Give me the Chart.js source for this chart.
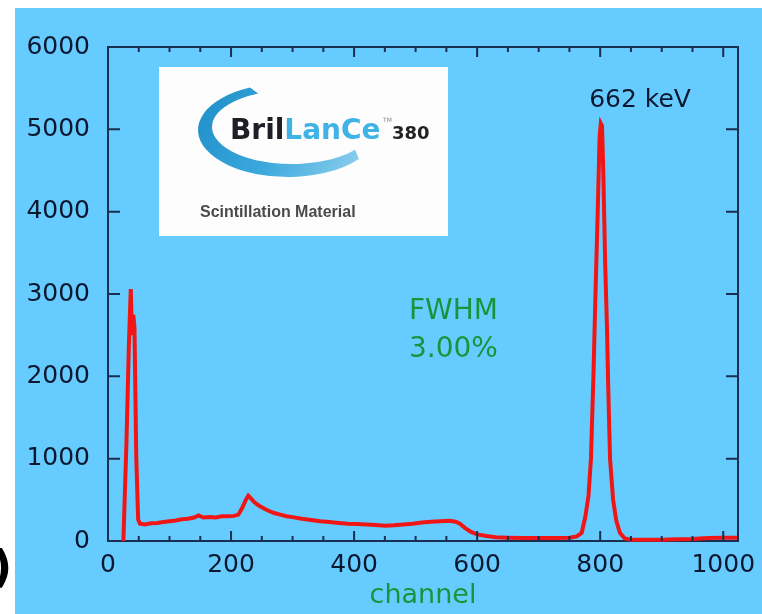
<!DOCTYPE html>
<html>
<head>
<meta charset="utf-8">
<script src="https://cdn.jsdelivr.net/npm/chart.js@4.4.0/dist/chart.umd.min.js"></script>
<style>
  html, body { margin: 0; padding: 0; background: #ffffff; }
  #wrap { width: 762px; height: 614px; }
</style>
</head>
<body>
<div id="wrap"><canvas id="spectrum" width="762" height="614"></canvas></div>
<script>
// spectrum: channel -> counts
const channels = [
  25, 30, 34, 37, 39, 41, 43, 46, 49, 52, 60, 70, 80, 90, 100, 110, 120, 130,
  140, 147, 155, 165, 175, 185, 195, 205, 212, 218, 224, 228, 232, 238, 245,
  252, 260, 270, 280, 290, 300, 315, 330, 345, 360, 375, 390, 405, 420, 435,
  450, 465, 480, 495, 510, 525, 540, 555, 565, 572, 580, 590, 600, 615, 630,
  650, 675, 700, 725, 750, 762, 770, 776, 781, 785, 789, 792, 796, 799, 801,
  803, 805, 808, 811, 813, 816, 821, 826, 832, 840, 850, 875, 900, 925, 950,
  975, 1000, 1024,
];
const counts = [
  0, 1200, 2400, 3060, 2500, 2750, 2600, 1000, 260, 210, 200, 215, 220, 230,
  240, 250, 265, 270, 285, 310, 285, 290, 285, 300, 300, 305, 320, 400, 500,
  550, 520, 470, 430, 400, 370, 340, 320, 300, 290, 270, 255, 240, 230, 220,
  210, 205, 200, 195, 185, 190, 200, 210, 225, 235, 240, 245, 235, 210, 160,
  110, 80, 60, 45, 40, 35, 35, 35, 40, 55, 100, 300, 550, 1000, 2000, 2900,
  4000, 4900, 5070, 5040, 4500, 3400, 2600, 1900, 1000, 500, 250, 100, 30, 15,
  15, 15, 20, 25, 35, 40, 40,
];

const xTicks = [0, 200, 400, 600, 800, 1000];
const yTicks = [0, 1000, 2000, 3000, 4000, 5000, 6000];
const xMinorStep = 50;

const AXIS = "#1c2e50";
const LABEL = "#0b1830";
const GREEN = "#16963a";

// white page with the blue panel on it
const backdrop = {
  id: "backdrop",
  beforeDraw(chart) {
    const ctx = chart.ctx;
    ctx.save();
    ctx.fillStyle = "#ffffff";
    ctx.fillRect(0, 0, chart.width, chart.height);
    ctx.fillStyle = "#66ccff";
    ctx.fillRect(15, 8, chart.width - 15, chart.height - 8);
    ctx.restore();
  },
};

// closed frame + inward ticks
const frameTicks = {
  id: "frameTicks",
  afterDatasetsDraw(chart) {
    const { ctx, chartArea: a, scales } = chart;
    ctx.save();
    ctx.strokeStyle = AXIS;
    ctx.lineWidth = 2;
    ctx.beginPath();
    ctx.moveTo(a.left, a.top);
    ctx.lineTo(a.right, a.top);
    ctx.lineTo(a.right, a.bottom);
    ctx.stroke();

    ctx.beginPath();
    for (let v = 0; v <= xTicks[xTicks.length - 1]; v += xMinorStep) {
      const px = scales.x.getPixelForValue(v);
      const len = xTicks.includes(v) ? 10 : 5;
      ctx.moveTo(px, a.bottom);
      ctx.lineTo(px, a.bottom - len);
      ctx.moveTo(px, a.top);
      ctx.lineTo(px, a.top + len);
    }
    yTicks.forEach((v) => {
      const py = scales.y.getPixelForValue(v);
      ctx.moveTo(a.left, py);
      ctx.lineTo(a.left + 12, py);
      ctx.moveTo(a.right, py);
      ctx.lineTo(a.right - 12, py);
    });
    ctx.stroke();
    ctx.restore();
  },
};

// peak label, FWHM note, logo box
const notes = {
  id: "notes",
  afterDraw(chart) {
    const ctx = chart.ctx;
    const deg = Math.PI / 180;
    ctx.save();

    ctx.fillStyle = LABEL;
    ctx.font = '25px "DejaVu Sans"';
    ctx.textAlign = "center";
    ctx.textBaseline = "alphabetic";
    ctx.fillText("662 keV", 640, 107);

    ctx.fillStyle = GREEN;
    ctx.font = '28px "DejaVu Sans"';
    ctx.textAlign = "left";
    ctx.fillText("FWHM", 409, 319);
    ctx.fillText("3.00%", 409, 357);

    // logo
    ctx.fillStyle = "#fdfdfd";
    ctx.fillRect(159, 67, 289, 169);

    // swoosh: crescent between two ellipse arcs
    const grad = ctx.createLinearGradient(200, 90, 360, 175);
    grad.addColorStop(0, "#1f8fc8");
    grad.addColorStop(0.5, "#3aa8dc");
    grad.addColorStop(1, "#8fd0ef");
    ctx.fillStyle = grad;
    ctx.beginPath();
    ctx.ellipse(288, 130, 90, 47, 0, -115 * deg, 38 * deg, true);
    ctx.ellipse(292, 127, 80, 37, 0, 38 * deg, -115 * deg, false);
    ctx.closePath();
    ctx.fill();

    ctx.textBaseline = "alphabetic";
    ctx.font = 'bold 28px "DejaVu Sans"';
    ctx.fillStyle = "#1e1e24";
    ctx.fillText("Bril", 230, 139);
    const w = ctx.measureText("Bril").width;
    ctx.fillStyle = "#3fb3e6";
    ctx.fillText("LanCe", 230 + w, 139);

    ctx.fillStyle = "#888888";
    ctx.font = '6px "DejaVu Sans"';
    ctx.fillText("TM", 383, 122);

    ctx.fillStyle = "#222222";
    ctx.font = 'bold 18px "DejaVu Sans"';
    ctx.fillText("380", 392, 139);

    ctx.fillStyle = "#4a4a4a";
    ctx.font = 'bold 16px "Liberation Sans"';
    ctx.fillText("Scintillation Material", 200, 217, 171);

    // stray bracket at the left edge
    ctx.fillStyle = "#000000";
    ctx.font = 'bold 44px "DejaVu Sans"';
    ctx.fillText(")", -8, 582);

    ctx.restore();
  },
};

new Chart(document.getElementById("spectrum"), {
  type: "line",
  data: {
    datasets: [
      {
        data: channels.map((c, i) => ({ x: c, y: counts[i] })),
        borderColor: "#f01616",
        borderWidth: 4,
        pointRadius: 0,
        tension: 0,
        fill: false,
        clip: false,
      },
    ],
  },
  options: {
    responsive: false,
    animation: false,
    layout: { padding: { top: 47, right: 24, left: 0, bottom: 0 } },
    plugins: {
      legend: { display: false },
      tooltip: { enabled: false },
    },
    scales: {
      x: {
        type: "linear",
        min: 0,
        max: 1024,
        grid: { display: false, drawTicks: false },
        border: { display: true, color: AXIS, width: 2 },
        afterBuildTicks: (scale) => {
          scale.ticks = xTicks.map((v) => ({ value: v }));
        },
        afterFit: (scale) => {
          scale.height = 73;
          scale.paddingLeft = 0;
          scale.paddingRight = 0;
        },
        ticks: {
          color: LABEL,
          padding: 9,
          font: { family: "DejaVu Sans", size: 25 },
          maxRotation: 0,
          callback: (v) => String(v),
        },
        title: {
          display: true,
          text: "channel",
          color: GREEN,
          font: { family: "DejaVu Sans", size: 27 },
          padding: { top: 0, bottom: 2 },
        },
      },
      y: {
        min: 0,
        max: 6000,
        grid: { display: false, drawTicks: false },
        border: { display: true, color: AXIS, width: 2 },
        afterBuildTicks: (scale) => {
          scale.ticks = yTicks.map((v) => ({ value: v }));
        },
        afterFit: (scale) => {
          scale.width = 108;
          scale.paddingTop = 0;
          scale.paddingBottom = 0;
        },
        ticks: {
          color: LABEL,
          padding: 18,
          font: { family: "DejaVu Sans", size: 25 },
          callback: (v) => String(v),
        },
      },
    },
  },
  plugins: [backdrop, frameTicks, notes],
});
</script>
</body>
</html>
